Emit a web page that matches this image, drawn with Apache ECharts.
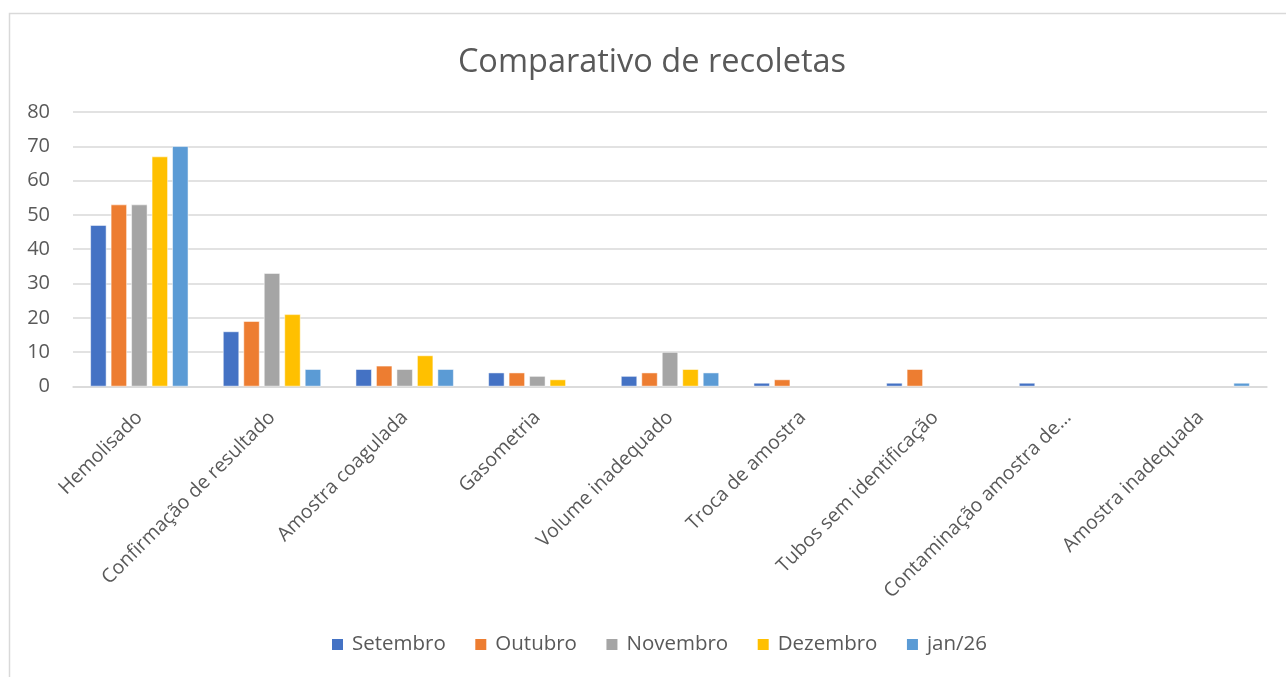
<!DOCTYPE html>
<html>
<head>
<meta charset="utf-8">
<script src="https://cdn.jsdelivr.net/npm/echarts@6/dist/echarts.min.js"></script>
<style>
  html, body { margin: 0; padding: 0; background: #fff; }
  #chart { width: 1286px; height: 677px; }
</style>
</head>
<body>
<div id="chart"></div>
<script>
  // categorias e valores
  var categorias = ['Hemolisado', 'Confirmação de resultado', 'Amostra coagulada', 'Gasometria',
    'Volume inadequado', 'Troca de amostra', 'Tubos sem identificação', 'Contaminação amostra de…',
    'Amostra inadequada']
  var setembro = [47, 16, 5, 4, 3, 1, 1, 1, null]
  var outubro = [53, 19, 6, 4, 4, 2, 5, null, null]
  var novembro = [53, 33, 5, 3, 10, null, null, null, null]
  var dezembro = [67, 21, 9, 2, 5, null, null, null, null]
  var jan26 = [70, 5, 5, null, 4, null, null, null, 1]
  var yTicks = [0, 10, 20, 30, 40, 50, 60, 70, 80]

  var cores = ['#4472C4', '#ED7D31', '#A5A5A5', '#FFC000', '#5B9BD5']
  var nomes = ['Setembro', 'Outubro', 'Novembro', 'Dezembro', 'jan/26']
  var dados = [setembro, outubro, novembro, dezembro, jan26]
  var fonte = '"Open Sans", "Noto Sans", sans-serif'

  var chart = echarts.init(document.getElementById('chart'), null, { renderer: 'canvas' })
  chart.setOption({
    animation: false,
    color: cores,
    title: {
      text: 'Comparativo de recoletas',
      left: 647,
      textAlign: 'center',
      top: 41,
      textStyle: { fontFamily: fonte, fontSize: 32.5, fontWeight: 'normal', color: '#595959' }
    },
    graphic: [{
      type: 'rect',
      shape: { x: 9.5, y: 13.5, width: 1300, height: 700 },
      style: { fill: 'none', stroke: '#d9d9d9', lineWidth: 1.5 },
      z: -1
    }],
    legend: {
      data: nomes,
      left: 330,
      top: 634,
      padding: 0,
      icon: 'rect',
      itemWidth: 13,
      itemHeight: 13,
      itemGap: 27.5,
      textStyle: { fontFamily: fonte, fontSize: 20.5, color: '#595959', padding: [0, 0, 0, 3] }
    },
    grid: { left: 73, right: 19, top: 112, bottom: 290.6 },
    xAxis: {
      type: 'category',
      data: categorias,
      axisLine: { lineStyle: { color: '#d9d9d9', width: 1.5 } },
      axisTick: { show: false },
      axisLabel: {
        rotate: 45,
        interval: 0,
        margin: 28,
        fontFamily: fonte,
        fontSize: 19.5,
        color: '#595959'
      }
    },
    yAxis: {
      type: 'value',
      min: yTicks[0],
      max: yTicks[yTicks.length - 1],
      interval: 10,
      axisLine: { show: false },
      axisTick: { show: false },
      splitLine: { lineStyle: { color: '#d9d9d9', width: 1.5 } },
      axisLabel: { margin: 23, fontFamily: fonte, fontSize: 20, color: '#595959' }
    },
    series: dados.map(function(d, i) {
      return {
        name: nomes[i],
        type: 'bar',
        data: d,
        barWidth: 16,
        barGap: '28%',
        itemStyle: { color: cores[i], borderColor: '#fff', borderWidth: 0.5 }
      }
    })
  })
</script>
</body>
</html>
